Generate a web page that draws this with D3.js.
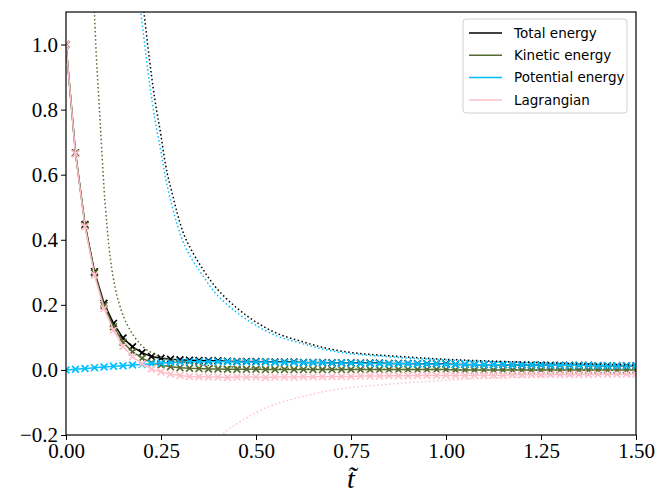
<!DOCTYPE html>
<html>
<head>
<meta charset="utf-8">
<script src="https://cdn.jsdelivr.net/npm/d3@7"></script>
<style>
  body { margin: 0; background: #fff; }
  .tick text { font-family: "Liberation Serif", serif; }
</style>
</head>
<body>
<div class="canvas"></div>
<script>
// sample times
const tSteps = [0.000, 0.025, 0.050, 0.075, 0.100, 0.125, 0.150, 0.175, 0.200, 0.225,
  0.250, 0.275, 0.300, 0.325, 0.350, 0.375, 0.400, 0.425, 0.450, 0.475,
  0.500, 0.525, 0.550, 0.575, 0.600, 0.625, 0.650, 0.675, 0.700, 0.725,
  0.750, 0.775, 0.800, 0.825, 0.850, 0.875, 0.900, 0.925, 0.950, 0.975,
  1.000, 1.025, 1.050, 1.075, 1.100, 1.125, 1.150, 1.175, 1.200, 1.225,
  1.250, 1.275, 1.300, 1.325, 1.350, 1.375, 1.400, 1.425, 1.450, 1.475, 1.500];

const totalE = [1.000, 0.667, 0.447, 0.302, 0.205, 0.143, 0.098, 0.071, 0.053, 0.041,
  0.036, 0.033, 0.031, 0.030, 0.029, 0.028, 0.028, 0.027, 0.026, 0.026,
  0.026, 0.025, 0.024, 0.024, 0.024, 0.023, 0.023, 0.023, 0.022, 0.022,
  0.022, 0.021, 0.021, 0.021, 0.020, 0.020, 0.020, 0.019, 0.019, 0.019,
  0.018, 0.017, 0.017, 0.016, 0.016, 0.016, 0.016, 0.015, 0.015, 0.015,
  0.015, 0.014, 0.014, 0.014, 0.014, 0.014, 0.013, 0.013, 0.013, 0.013, 0.013];

const kineticE = [1.000, 0.666, 0.444, 0.298, 0.198, 0.133, 0.085, 0.056, 0.036, 0.022,
  0.015, 0.010, 0.007, 0.005, 0.004, 0.003, 0.003, 0.002, 0.002, 0.002,
  0.002, 0.001, 0.001, 0.001, 0.001, 0.001, 0.001, 0.001, 0.001, 0.001,
  0.001, 0.001, 0.001, 0.001, 0.001, 0.001, 0.001, 0.001, 0.001, 0.001,
  0.001, 0.000, 0.000, 0.000, 0.000, 0.000, 0.000, 0.000, 0.000, 0.000,
  0.000, 0.000, 0.000, 0.000, 0.000, 0.000, 0.000, 0.000, 0.000, 0.000, 0.000];

const potentialE = [0.000, 0.002, 0.004, 0.007, 0.009, 0.011, 0.013, 0.015, 0.017, 0.019,
  0.021, 0.023, 0.024, 0.025, 0.025, 0.025, 0.025, 0.025, 0.024, 0.024,
  0.024, 0.024, 0.023, 0.023, 0.023, 0.022, 0.022, 0.022, 0.021, 0.021,
  0.021, 0.020, 0.020, 0.020, 0.019, 0.019, 0.019, 0.018, 0.018, 0.018,
  0.017, 0.017, 0.017, 0.016, 0.016, 0.016, 0.016, 0.015, 0.015, 0.015,
  0.015, 0.014, 0.014, 0.014, 0.014, 0.014, 0.013, 0.013, 0.013, 0.013, 0.013];

const lagrangian = [1.000, 0.664, 0.440, 0.291, 0.189, 0.122, 0.072, 0.041, 0.019, 0.003,
  -0.006, -0.013, -0.017, -0.020, -0.021, -0.022, -0.022, -0.023, -0.022, -0.022,
  -0.022, -0.023, -0.022, -0.022, -0.022, -0.021, -0.021, -0.021, -0.020, -0.020,
  -0.020, -0.019, -0.019, -0.019, -0.018, -0.018, -0.018, -0.017, -0.017, -0.017,
  -0.016, -0.017, -0.017, -0.016, -0.016, -0.016, -0.016, -0.015, -0.015, -0.015,
  -0.015, -0.014, -0.014, -0.014, -0.014, -0.014, -0.013, -0.013, -0.013, -0.013, -0.013];

// dotted bound curves as [t, value]
const totalBound = [[0.195, 1.20], [0.206, 1.09], [0.220, 0.95], [0.234, 0.83], [0.250, 0.72],
  [0.262, 0.63], [0.280, 0.54], [0.306, 0.43], [0.334, 0.36], [0.360, 0.31], [0.390, 0.26],
  [0.417, 0.225], [0.450, 0.19], [0.510, 0.14], [0.560, 0.11], [0.616, 0.089], [0.680, 0.068],
  [0.747, 0.054], [0.820, 0.046], [0.880, 0.041], [1.010, 0.032], [1.100, 0.028],
  [1.230, 0.023], [1.350, 0.019], [1.500, 0.015]];

const potentialBound = [[0.195, 1.12], [0.206, 1.01], [0.220, 0.88], [0.234, 0.77], [0.250, 0.67],
  [0.262, 0.59], [0.280, 0.50], [0.306, 0.40], [0.334, 0.335], [0.360, 0.29], [0.390, 0.24],
  [0.417, 0.208], [0.450, 0.176], [0.510, 0.13], [0.560, 0.102], [0.616, 0.083], [0.680, 0.063],
  [0.747, 0.050], [0.820, 0.043], [0.880, 0.038], [1.010, 0.030], [1.100, 0.026],
  [1.230, 0.021], [1.350, 0.018], [1.500, 0.014]];

const kineticBound = [[0.068, 1.25], [0.075, 1.09], [0.080, 0.96], [0.085, 0.86], [0.091, 0.74],
  [0.100, 0.56], [0.108, 0.44], [0.117, 0.34], [0.130, 0.25], [0.148, 0.175], [0.170, 0.12],
  [0.200, 0.074], [0.230, 0.050], [0.270, 0.033], [0.300, 0.026], [0.340, 0.018], [0.380, 0.013],
  [0.450, 0.008], [0.500, 0.006], [0.600, 0.004], [0.750, 0.002], [1.000, 0.001], [1.500, 0.000]];

const lagrangianBound = [[0.400, -0.215], [0.411, -0.200], [0.450, -0.165], [0.490, -0.138],
  [0.528, -0.115], [0.570, -0.098], [0.616, -0.084], [0.680, -0.066], [0.747, -0.054],
  [0.820, -0.047], [0.879, -0.041], [1.010, -0.031], [1.100, -0.026], [1.230, -0.021],
  [1.350, -0.017], [1.500, -0.014]];

const xTicks = [0, 0.25, 0.5, 0.75, 1.0, 1.25, 1.5];
const yTicks = [-0.2, 0, 0.2, 0.4, 0.6, 0.8, 1.0];
const labels = ['Total energy', 'Kinetic energy', 'Potential energy', 'Lagrangian'];
const colours = ['#000000', '#556b2f', '#00bfff', '#ffc0cb'];

const dims = { width: 657, height: 494 };
const plot = { left: 66, right: 636, top: 12, bottom: 435 };

const svg = d3.select('.canvas').append('svg')
  .attr('width', dims.width)
  .attr('height', dims.height);

const x = d3.scaleLinear().domain([0, 1.5]).range([plot.left, plot.right]);
const y = d3.scaleLinear().domain([-0.2, 1.1]).range([plot.bottom, plot.top]);

svg.append('clipPath').attr('id', 'clip')
  .append('rect')
  .attr('x', plot.left).attr('y', plot.top)
  .attr('width', plot.right - plot.left).attr('height', plot.bottom - plot.top);

const graph = svg.append('g').attr('clip-path', 'url(#clip)');

const line = d3.line().x(d => x(d[0])).y(d => y(d[1]));
const smooth = d3.line().x(d => x(d[0])).y(d => y(d[1])).curve(d3.curveMonotoneX);

// solid lines with x markers
const series = [totalE, kineticE, potentialE, lagrangian];
series.forEach((vals, k) => {
  const pts = tSteps.map((t, i) => [t, vals[i]]);
  graph.append('path')
    .attr('d', line(pts))
    .attr('fill', 'none')
    .attr('stroke', colours[k])
    .attr('stroke-width', 1.5);
  const s = 3.4;
  graph.append('g').selectAll('path')
    .data(pts)
    .enter().append('path')
    .attr('d', d => `M${x(d[0]) - s},${y(d[1]) - s}L${x(d[0]) + s},${y(d[1]) + s}M${x(d[0]) - s},${y(d[1]) + s}L${x(d[0]) + s},${y(d[1]) - s}`)
    .attr('stroke', colours[k])
    .attr('stroke-width', 1.7)
    .attr('fill', 'none');
});

// dotted bounds
const bounds = [totalBound, kineticBound, potentialBound, lagrangianBound];
bounds.forEach((b, k) => {
  graph.append('path')
    .attr('d', smooth(b))
    .attr('fill', 'none')
    .attr('stroke', colours[k])
    .attr('stroke-width', 1.5)
    .attr('stroke-dasharray', '1.5,2.5');
});

// axes
const xAxis = d3.axisBottom(x).tickValues(xTicks).tickFormat(d3.format('.2f')).tickSize(5).tickPadding(3);
const yAxis = d3.axisLeft(y).tickValues(yTicks).tickFormat(d => d3.format('.1f')(d).replace('-', '\u2212')).tickSize(5).tickPadding(3);

const gx = svg.append('g').attr('transform', `translate(0, ${plot.bottom})`).call(xAxis);
const gy = svg.append('g').attr('transform', `translate(${plot.left}, 0)`).call(yAxis);
[gx, gy].forEach(g => {
  g.select('.domain').remove();
  g.selectAll('.tick line').attr('stroke', '#000').attr('stroke-width', 1);
  g.selectAll('.tick text').attr('font-size', 21).attr('fill', '#000');
});

// frame
svg.append('rect')
  .attr('x', plot.left).attr('y', plot.top)
  .attr('width', plot.right - plot.left).attr('height', plot.bottom - plot.top)
  .attr('fill', 'none').attr('stroke', '#000').attr('stroke-width', 1.2);

// x label
svg.append('text')
  .attr('x', (plot.left + plot.right) / 2)
  .attr('y', 488)
  .attr('text-anchor', 'middle')
  .attr('font-family', 'Liberation Serif, serif')
  .attr('font-style', 'italic')
  .attr('font-size', 28)
  .text('t\u0303');

// legend
const legendGroup = svg.append('g').attr('transform', 'translate(463, 19)');
legendGroup.append('rect')
  .attr('width', 164).attr('height', 94)
  .attr('rx', 3)
  .attr('fill', 'rgba(255,255,255,0.8)')
  .attr('stroke', '#d0d0d0')
  .attr('stroke-width', 1);

labels.forEach((name, i) => {
  const row = legendGroup.append('g').attr('transform', `translate(0, ${14 + i * 22.3})`);
  row.append('line')
    .attr('x1', 6).attr('x2', 39)
    .attr('stroke', colours[i]).attr('stroke-width', 1.5);
  row.append('text')
    .attr('x', 51).attr('dy', '0.35em')
    .attr('font-family', 'DejaVu Sans, sans-serif')
    .attr('font-size', 13.5)
    .attr('fill', '#000')
    .text(name);
});
</script>
</body>
</html>
